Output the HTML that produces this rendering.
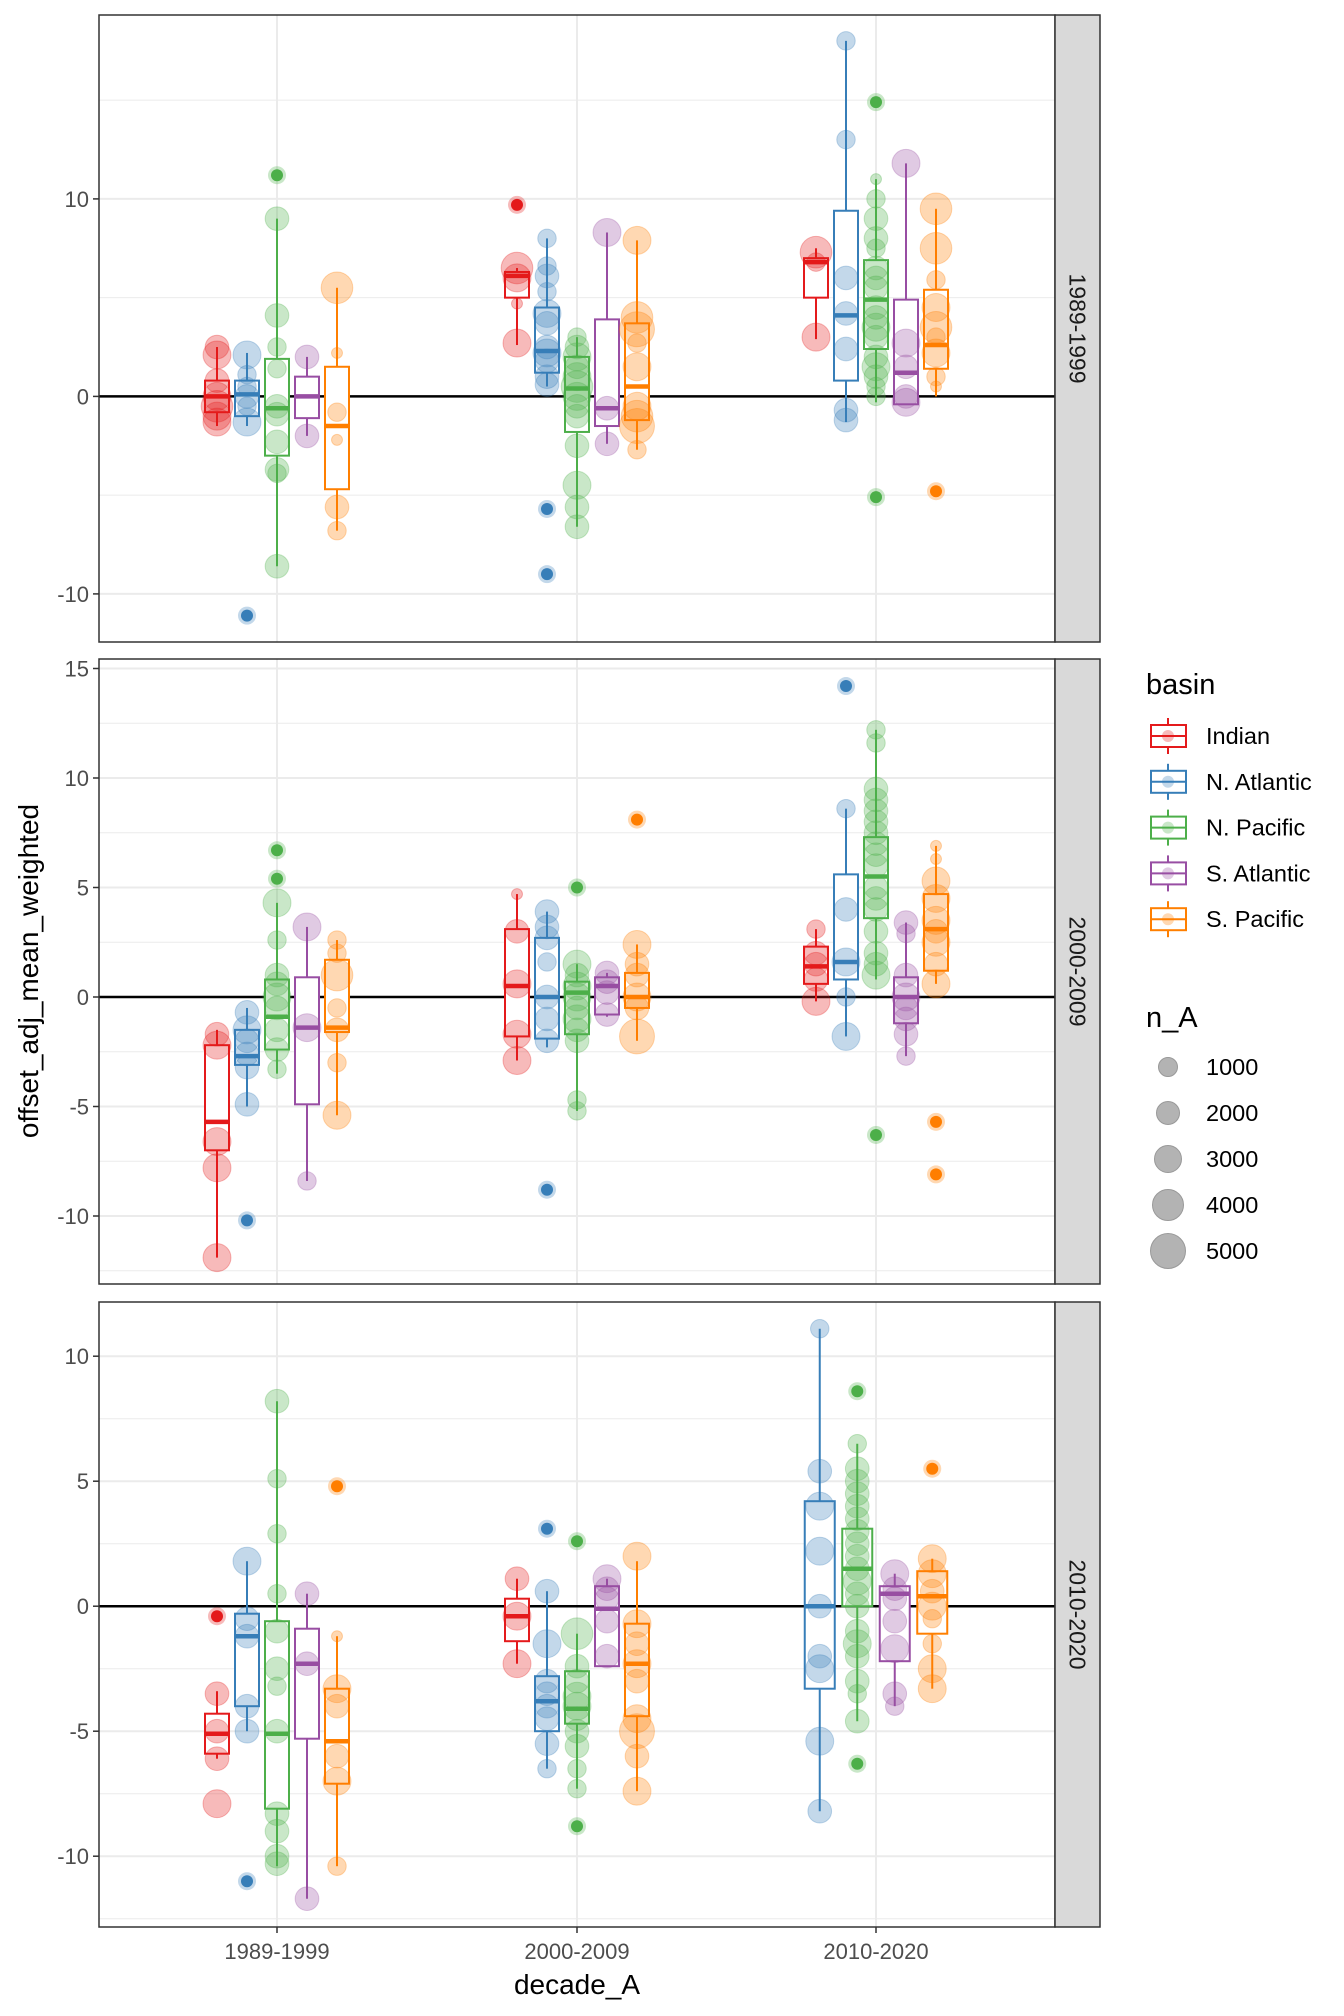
<!DOCTYPE html>
<html><head><meta charset="utf-8"><style>
html,body{margin:0;padding:0;background:#fff;}
svg{display:block;font-family:"Liberation Sans",Arial,sans-serif;}
</style></head><body>
<svg id="chart" width="1344" height="2016" viewBox="0 0 1344 2016" xmlns="http://www.w3.org/2000/svg"></svg>
<script>
// ---- data ----
const decades = ["1989-1999","2000-2009","2010-2020"];
const basins = ["Indian","N. Atlantic","N. Pacific","S. Atlantic","S. Pacific"];
const colors = ["#E41A1C","#377EB8","#4DAF4A","#984EA3","#FF7F00"];
const facets = ["1989-1999","2000-2009","2010-2020"];
const sizeLegend = [1000,2000,3000,4000,5000];

// box stats [lowWhisker, q1, median, q3, highWhisker] per facet -> decade -> basin
const box1 = [
 [[-1.5,-0.8,0,0.8,2.5],[-1.5,-1,0.1,0.8,2.2],[-8.6,-3,-0.6,1.9,9],[-2,-1.1,0,1,2],[-6.8,-4.7,-1.5,1.5,5.5]],
 [[2.6,5,6.1,6.3,6.5],[0.5,1.2,2.3,4.5,8],[-6.6,-1.8,0.4,2,3],[-2.4,-1.5,-0.6,3.9,8.3],[-2.7,-1.2,0.5,3.7,7.9]],
 [[2.9,5,6.8,7,7.5],[-1.3,0.8,4.1,9.4,18],[-0.3,2.4,4.9,6.9,11],[-0.4,-0.4,1.2,4.9,11.8],[0,1.4,2.6,5.4,9.5]]
];
const box2 = [
 [[-11.9,-7,-5.7,-2.2,-1.5],[-5,-3.1,-2.7,-1.5,-0.5],[-3.5,-2.4,-0.9,0.8,4.3],[-8.4,-4.9,-1.4,0.9,3.2],[-5.4,-1.6,-1.4,1.7,2.6]],
 [[-2.9,-1.8,0.5,3.1,4.7],[-2.3,-1.9,0,2.7,3.9],[-5.2,-1.7,0.2,0.7,1.5],[-0.9,-0.8,0.5,0.9,1.1],[-2,-0.5,0,1.1,2.4]],
 [[-0.2,0.6,1.4,2.3,3.1],[-1.8,0.8,1.6,5.6,8.6],[0.8,3.6,5.5,7.3,12.2],[-2.7,-1.2,0,0.9,3.4],[0.6,1.2,3.1,4.7,6.9]]
];
const box3 = [
 [[-6.1,-5.9,-5.1,-4.3,-3.4],[-5,-4,-1.2,-0.3,1.8],[-10.4,-8.1,-5.1,-0.6,8.2],[-11.7,-5.3,-2.3,-0.9,0.5],[-10.4,-7.1,-5.4,-3.3,-1.2]],
 [[-2.3,-1.4,-0.4,0.3,1.1],[-6.5,-5,-3.8,-2.8,0.6],[-7.3,-4.7,-4.1,-2.6,-1.1],[-2.4,-2.4,-0.1,0.8,1.1],[-7.4,-4.4,-2.3,-0.7,1.8]],
 [null,[-8.2,-3.3,0,4.2,11.1],[-4.6,0,1.5,3.1,6.5],[-4,-2.2,0.5,0.8,1.3],[-3.3,-1.1,0.4,1.4,1.9]]
];
// points [value, n_A in thousands]
const pts1 = [
 [[[2.5,2],[2.1,3],[0.8,2],[0,3],[-0.5,4],[-1,3],[-1.3,3]],[[2.1,3],[1.1,1],[0.5,1],[0,2],[-0.5,1],[-1.3,3]],[[9,2],[4.1,2],[2.5,1],[1.4,1],[-0.5,2],[-0.9,2],[-2.3,2],[-3.7,2],[-3.9,1],[-8.6,2]],[[2,2],[-2,2]],[[5.5,4],[2.2,0],[-0.8,1],[-2.2,0],[-5.6,2],[-6.8,1]]],
 [[[6.5,4],[6,3],[4.7,0],[2.7,3]],[[8,1],[6.6,1],[6.1,2],[5.3,1],[4.2,3],[3.7,2],[2.5,2],[2.2,3],[1.8,2],[1,2],[0.6,2]],[[3,1],[2.5,2],[2,3],[1.5,2],[1,3],[0.5,4],[0,3],[-0.5,2],[-1,2],[-2.5,2],[-4.5,3],[-5.6,2],[-6.6,2]],[[8.3,3],[-0.6,2],[-2.4,2]],[[7.9,3],[4,4],[3.4,5],[2.7,1],[1.5,3],[-0.5,3],[-1,4],[-1.5,5],[-2.7,1]]],
 [[[7.3,4],[6.8,1],[3,3]],[[18,1],[13,1],[6,2],[4.2,2],[2.4,2],[-0.7,2],[-1.2,2]],[[11,0],[10,1],[9,2],[8,2],[7.5,1],[6.5,2],[6,2],[5.5,2],[4.5,2],[4,2],[3.5,3],[3,2],[2,2],[1.5,3],[1,2],[0.5,1],[0,1]],[[11.8,3],[2.7,3],[1.5,2],[0,2],[-0.3,3]],[[9.5,4],[7.5,4],[5.9,1],[4.5,3],[3.5,4],[3,1],[2.2,3],[1,1],[0.5,0]]]
];
const out1 = [[[],[-11.1],[11.2],[],[]],[[9.7],[-5.7,-9],[],[],[]],[[],[],[14.9,-5.1],[],[-4.8]]];
const pts2 = [
 [[[-1.7,2],[-2.2,3],[-6.6,3],[-7.8,3],[-11.9,3]],[[-0.7,2],[-1.5,3],[-2,2],[-2.6,2],[-3.2,2],[-4.9,2]],[[4.3,3],[2.6,1],[1,2],[0.6,2],[0,3],[-0.5,2],[-1.5,2],[-2.4,2],[-3.3,1]],[[3.2,3],[-1.4,3],[-8.4,1]],[[2.6,1],[2,1],[1,4],[-0.5,1],[-1.5,2],[-3,1],[-5.4,3]]],
 [[[4.7,0],[3,2],[0.6,3],[-1.7,3],[-2.9,3]],[[3.9,2],[3.2,2],[2.7,2],[1.6,1],[0,2],[-1,2],[-2,2]],[[1.5,3],[1,2],[0.5,3],[0,3],[-0.5,2],[-1,3],[-1.5,2],[-2,2],[-4.7,1],[-5.2,1]],[[1.1,2],[0.7,2],[0.2,2],[-0.8,2]],[[2.4,3],[1.5,2],[1,2],[0,3],[-0.5,2],[-1.8,5]]],
 [[[3.1,1],[2,2],[1.5,2],[0.8,2],[-0.2,3]],[[8.6,1],[4,2],[1.6,3],[0,1],[-1.8,3]],[[12.2,1],[11.6,1],[9.5,2],[9,2],[8.5,2],[8,2],[7.5,2],[7,2],[6.5,2],[6,2],[5,2],[4.5,2],[4,2],[3,2],[2,2],[1.5,2],[1,3]],[[3.4,2],[2.9,1],[1,2],[0,3],[-0.5,2],[-1,2],[-1.7,2],[-2.7,1]],[[6.9,0],[6.3,0],[5.3,3],[4.5,3],[3.5,3],[3,2],[2.5,3],[1.5,2],[0.6,3]]]
];
const out2 = [[[],[-10.2],[6.7,5.4],[],[]],[[],[-8.8],[5],[],[8.1]],[[],[14.2],[-6.3],[],[-5.7,-8.1]]];
const pts3 = [
 [[[-3.5,2],[-5,2],[-6.1,2],[-7.9,3]],[[1.8,3],[-0.5,2],[-1.2,2],[-4,2],[-5,2]],[[8.2,2],[5.1,1],[2.9,1],[0.5,1],[-1,2],[-2.5,2],[-3.2,1],[-5,2],[-8.3,2],[-9,2],[-10,2],[-10.3,2]],[[0.5,2],[-2.3,2],[-11.7,2]],[[-1.2,0],[-3.3,3],[-4,2],[-6,2],[-7,3],[-10.4,1]]],
 [[[1.1,2],[-0.4,3],[-2.3,3]],[[0.6,2],[-1.5,3],[-3,2],[-3.5,2],[-4,2],[-4.5,2],[-5.5,2],[-6.5,1]],[[-1.1,4],[-2.4,2],[-3,2],[-3.6,3],[-4,3],[-4.5,2],[-5,2],[-5.6,2],[-6.5,1],[-7.3,1]],[[1.1,3],[0.7,2],[0.3,2],[-0.6,2],[-2,2]],[[2,3],[-0.7,3],[-1.5,2],[-2.3,3],[-3,2],[-4.5,3],[-5,5],[-6,2],[-7.4,3]]],
 [[],[[11.1,1],[5.4,2],[4,3],[2.2,3],[0,2],[-2,2],[-2.5,3],[-5.4,3],[-8.2,2]],[[6.5,1],[5.5,2],[5,2],[4.5,2],[4,2],[3.5,2],[3,2],[2.5,2],[2,2],[1.5,2],[1,3],[0.5,2],[0,2],[-1,2],[-1.5,3],[-2,2],[-3,2],[-3.5,1],[-4.6,2]],[[1.3,3],[0.7,2],[0.3,2],[-0.6,2],[-1.7,3],[-3.5,2],[-4,1]],[[1.9,3],[1.3,3],[0.6,2],[0,3],[-0.5,1],[-1.5,1],[-2.5,3],[-3.3,3]]]
];
const out3 = [[[-0.4],[-11],[],[],[4.8]],[[],[3.1],[2.6,-8.8],[],[]],[[],[],[8.6,-6.3],[],[5.5]]];

// ---- layout ----
const NS="http://www.w3.org/2000/svg";
const svg=document.getElementById('chart');
const PL=99, PR=1055, SR=1100;
const panels=[
 {top:15,bot:642,zero:396.4,ppu:19.75,ticks:[-10,0,10],minor:[-5,5,15],box:box1,pts:pts1,out:out1},
 {top:659,bot:1284,zero:997,ppu:21.9,ticks:[-10,-5,0,5,10,15],minor:[-12.5,-7.5,-2.5,2.5,7.5,12.5],box:box2,pts:pts2,out:out2},
 {top:1302,bot:1927,zero:1606.2,ppu:25.0,ticks:[-10,-5,0,5,10],minor:[-12.5,-7.5,-2.5,2.5,7.5,12.5],box:box3,pts:pts3,out:out3}
];
const xCenters=[277,577,876];
function el(tag,attrs,parent){const e=document.createElementNS(NS,tag);for(const k in attrs)e.setAttribute(k,attrs[k]);(parent||svg).appendChild(e);return e;}
function rad(n){return Math.sqrt(30+55*n);}

panels.forEach((p,fi)=>{
 const g=el('g',{});
 
 
 const y=v=>p.zero-v*p.ppu;
 el('rect',{x:PL,y:p.top,width:PR-PL,height:p.bot-p.top,fill:'#fff'},g);
 p.minor.forEach(v=>{const yy=y(v);if(yy>p.top&&yy<p.bot)el('line',{x1:PL,x2:PR,y1:yy,y2:yy,stroke:'#ebebeb','stroke-width':1},g);});
 p.ticks.forEach(v=>{el('line',{x1:PL,x2:PR,y1:y(v),y2:y(v),stroke:'#ebebeb','stroke-width':2},g);});
 xCenters.forEach(x=>el('line',{x1:x,x2:x,y1:p.top,y2:p.bot,stroke:'#ebebeb','stroke-width':2},g));
 el('line',{x1:PL,x2:PR,y1:y(0),y2:y(0),stroke:'#000','stroke-width':2.5},g);
 decades.forEach((d,di)=>{
  const idx=[];basins.forEach((b,i)=>{if(p.box[di][i]!==null)idx.push(i);});
  const n=idx.length, sp=150/n, bw=sp*0.8;
  idx.forEach((bi,k)=>{
   const cx=xCenters[di]-75+sp*(k+0.5), col=colors[bi], s=p.box[di][bi];
   const bg=el('g',{},g);
   
   
   el('line',{x1:cx,x2:cx,y1:y(s[0]),y2:y(s[1]),stroke:col,'stroke-width':2},bg);
   el('line',{x1:cx,x2:cx,y1:y(s[3]),y2:y(s[4]),stroke:col,'stroke-width':2},bg);
   el('rect',{x:cx-bw/2,y:y(s[3]),width:bw,height:Math.max(0,y(s[1])-y(s[3])),fill:'#fff',stroke:col,'stroke-width':2},bg);
   el('line',{x1:cx-bw/2,x2:cx+bw/2,y1:y(s[2]),y2:y(s[2]),stroke:col,'stroke-width':4.5},bg);
   p.out[di][bi].forEach(v=>{
    const o=el('circle',{cx:cx,cy:y(v),r:6,fill:col},bg);
    
    
    el('circle',{cx:cx,cy:y(v),r:9,fill:col,'fill-opacity':0.3},bg);
   });
   p.pts[di][bi].forEach(pt=>{
    const c=el('circle',{cx:cx,cy:y(pt[0]),r:rad(pt[1]),fill:col,'fill-opacity':0.3,stroke:col,'stroke-opacity':0.3,'stroke-width':1},bg);
    
    
   });
  });
 });
 el('rect',{x:PL,y:p.top,width:PR-PL,height:p.bot-p.top,fill:'none',stroke:'#333','stroke-width':1.5},g);
 p.ticks.forEach(v=>{
  el('line',{x1:PL-6,x2:PL,y1:y(v),y2:y(v),stroke:'#333','stroke-width':1.5},g);
  const t=el('text',{x:PL-10,y:y(v)+8,'text-anchor':'end','font-size':22,fill:'#4d4d4d'},g);
  t.textContent=v;
  
  
 });
 const st=el('g',{},g);
 
 
 el('rect',{x:PR,y:p.top,width:SR-PR,height:p.bot-p.top,fill:'#d9d9d9',stroke:'#333','stroke-width':1.5},st);
 const cy=(p.top+p.bot)/2;
 const tt=el('text',{x:0,y:0,transform:`translate(${(PR+SR)/2-8},${cy}) rotate(90)`,'text-anchor':'middle','font-size':23,fill:'#1a1a1a'},st);
 tt.textContent=facets[fi];
});
decades.forEach((d,i)=>{
 el('line',{x1:xCenters[i],x2:xCenters[i],y1:1927,y2:1933,stroke:'#333','stroke-width':1.5});
 const t=el('text',{x:xCenters[i],y:1959,'text-anchor':'middle','font-size':22,fill:'#4d4d4d'});
 t.textContent=d;
 
 
});
const xt=el('text',{x:577,y:1994,'text-anchor':'middle','font-size':28,fill:'#000'});
xt.textContent='decade_A';


const yt=el('text',{x:0,y:0,transform:'translate(38,971) rotate(-90)','text-anchor':'middle','font-size':28,fill:'#000'});
yt.textContent='offset_adj_mean_weighted';


// legend
const lg=el('g',{});


const lt=el('text',{x:1146,y:694,'font-size':29,fill:'#000'},lg);lt.textContent='basin';
basins.forEach((b,i)=>{
 const cy=736+i*45.8, col=colors[i];
 const e=el('g',{},lg);
 
 
 el('line',{x1:1168,x2:1168,y1:cy-18,y2:cy+18,stroke:col,'stroke-width':2},e);
 el('rect',{x:1151,y:cy-11,width:35,height:22,fill:'#fff',stroke:col,'stroke-width':2},e);
 el('circle',{cx:1168,cy:cy,r:6,fill:col,'fill-opacity':0.3},e);
 el('line',{x1:1151,x2:1186,y1:cy,y2:cy,stroke:col,'stroke-width':2},e);
 const t=el('text',{x:1206,y:cy+8,'font-size':23.5,fill:'#000'},e);t.textContent=b;
});
const nt=el('text',{x:1146,y:1027,'font-size':29,fill:'#000'},lg);nt.textContent='n_A';
sizeLegend.forEach((s,i)=>{
 const cy=1067+i*46;
 const e=el('g',{},lg);
 
 
 el('circle',{cx:1168,cy:cy,r:9.5+2*i,fill:'#b3b3b3',stroke:'#999','stroke-width':1},e);
 const t=el('text',{x:1206,y:cy+8,'font-size':23.5,fill:'#000'},e);t.textContent=s;
});
</script>
</body></html>
